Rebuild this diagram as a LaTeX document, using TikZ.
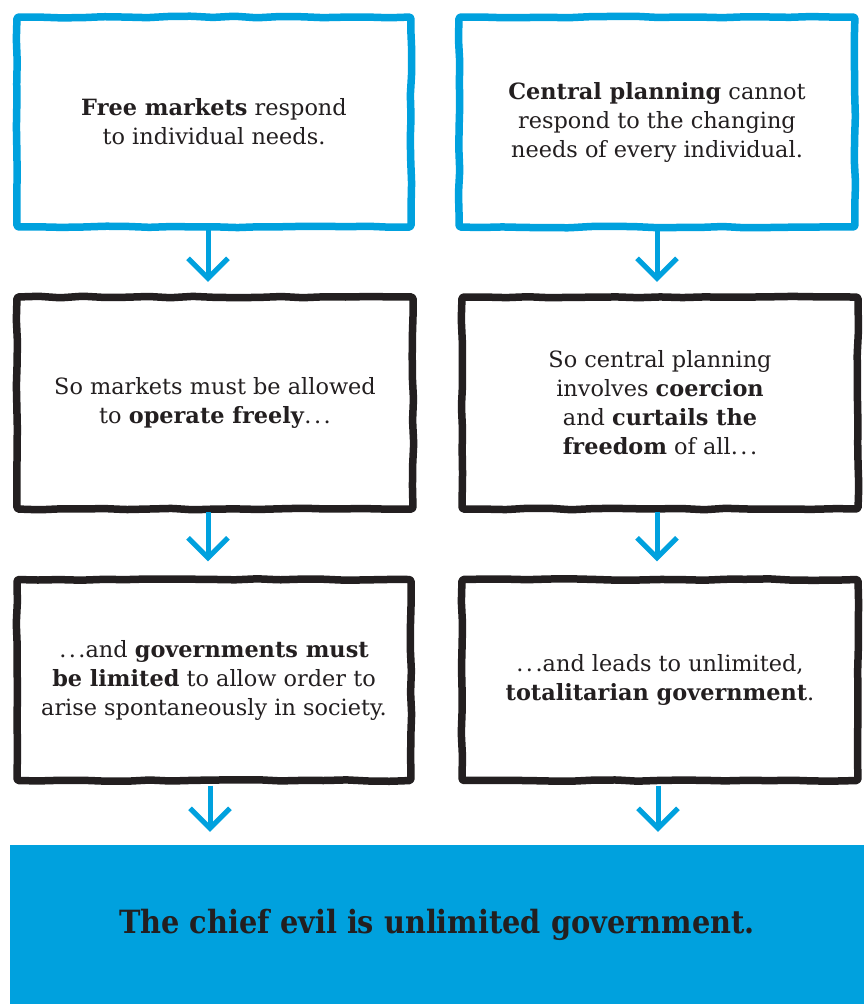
\documentclass[tikz,border=0pt]{standalone}
\usepackage{fontspec}
\setmainfont{DejaVu Serif}
\newfontfamily\heavyfont{DejaVu Serif Condensed}
\usetikzlibrary{arrows.meta,decorations.pathmorphing}
\definecolor{skyblue}{RGB}{0,161,222}
\definecolor{ink}{RGB}{35,31,32}
\newcommand{\spdots}{.\kern2.5pt.\kern2.5pt.}
\begin{document}
\begin{tikzpicture}[x=1pt,y=-1pt,
  txt/.style={text=ink,align=center,font=\fontsize{22.4}{29}\selectfont},
  sketch/.style={line width=7.5pt,line join=round,rounded corners=1.5pt,
    decorate,decoration={random steps,segment length=22pt,amplitude=0.8pt}},
  bluebox/.style={txt,minimum width=394pt,minimum height=210pt,
    postaction={draw=skyblue,sketch}},
  blackbox/.style={txt,minimum width=396pt,minimum height=210pt,
    postaction={draw=ink,sketch}},
  arr/.style={draw=skyblue,line width=5pt,
    -{Straight Barb[length=20pt,width=40pt,line width=5pt]}}
]
\pgfmathsetseed{7}
\useasboundingbox (0,0) rectangle (864,1004);
\fill[white] (0,0) rectangle (864,1004);

\node[bluebox] (b1) at (214,122) {\textbf{Free markets} respond\\to individual needs.};
\node[bluebox,minimum width=396pt] (b2) at (657,122) {\textbf{Central planning} cannot\\respond to the changing\\needs of every individual.};
\node[blackbox,minimum height=212pt] (b3) at (215,403) {So markets must be allowed\\to \textbf{operate freely}\spdots};
\node[blackbox,minimum height=212pt] (b4) at (660,403) {So central planning\\involves \textbf{coercion}\\and \textbf{curtails the}\\\textbf{freedom} of all\spdots};
\node[blackbox,minimum width=394pt,minimum height=201pt] (b5) at (214,680) {\spdots and \textbf{governments must}\\\textbf{be limited} to allow order to\\arise spontaneously in society.};
\node[blackbox,minimum height=201pt] (b6) at (660,680) {\spdots and leads to unlimited,\\\textbf{totalitarian government}.};
\node[fill=skyblue,minimum width=854pt,minimum height=159pt,inner sep=0pt,
  text=ink,font=\heavyfont\bfseries\fontsize{32}{38}\selectfont] (b7) at (437,924.5)
  {The chief evil is unlimited government.};

\draw[arr,shorten <=3pt,shorten >=15pt] (b1.south -| 208,0) -- (b3.north -| 208,0);
\draw[arr,shorten <=3pt,shorten >=15pt] (b2.south -| 657,0) -- (b4.north -| 657,0);
\draw[arr,shorten <=3pt,shorten >=18pt] (b3.south -| 208,0) -- (b5.north -| 208,0);
\draw[arr,shorten <=3pt,shorten >=18pt] (b4.south -| 657,0) -- (b6.north -| 657,0);
\draw[arr,shorten <=5pt,shorten >=13pt] (b5.south -| 210,0) -- (b7.north -| 210,0);
\draw[arr,shorten <=5pt,shorten >=13pt] (b6.south -| 658,0) -- (b7.north -| 658,0);
\end{tikzpicture}
\end{document}
